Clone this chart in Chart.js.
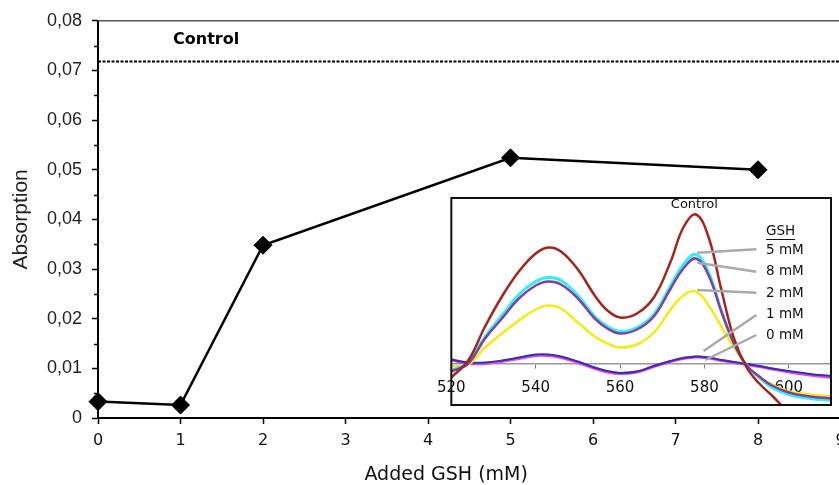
<!DOCTYPE html>
<html>
<head>
<meta charset="utf-8">
<script src="https://cdn.jsdelivr.net/npm/chart.js@4/dist/chart.umd.min.js"></script>
<style>
  html, body { margin: 0; padding: 0; background: #fff; overflow: hidden; }
  #wrap { position: relative; width: 839px; height: 485px; overflow: hidden; }
  #main { position: absolute; left: 0; top: 0; }
  #inset { position: absolute; left: 425px; top: 188px; }
</style>
</head>
<body>
<div id="wrap">
  <canvas id="main" width="860" height="485"></canvas>
  <canvas id="inset" width="414" height="225"></canvas>
</div>
<script>
// main plot: absorption vs added GSH
const gsh = [0, 1, 2, 5, 8]
const absorption = [0.0033, 0.0026, 0.0348, 0.0524, 0.0500]
const controlLevel = 0.0718
const xTicks = [0, 1, 2, 3, 4, 5, 6, 7, 8, 9]

// inset: spectra, wavelength in nm, arbitrary units
const nm = [520, 524, 528, 532, 536, 540, 543, 546, 550, 554, 557, 560, 564, 568, 572, 575, 578, 581, 584, 587, 590, 593, 596, 600, 605, 610]
const specControl = [-14, 3, 37, 67, 92, 110, 116, 112, 94, 68, 53, 46, 50, 66, 102, 136, 149, 126, 74, 25, -4, -20, -32, -48, -58, -64]
const spec5mM = [-7, 1, 27, 48, 69, 82, 86, 83, 68, 47, 37, 32, 36, 49, 78, 99, 109, 91, 53, 20, -2, -14, -24, -31, -35, -37]
const spec8mM = [-8, 0, 25, 45, 65, 78, 82, 79, 65, 45, 35, 30, 34, 47, 75, 95, 105, 88, 52, 20, -2, -13, -22, -29, -33, -35]
const spec2mM = [-3, -1, 16, 30, 43, 54, 58, 55, 41, 27, 20, 16, 19, 31, 54, 68, 72, 58, 37, 16, -2, -14, -21, -28, -31, -33]
const spec1mM = [4, 1, 1, 3, 6, 9, 9, 7, 2, -4, -7.5, -9.5, -8, -2.5, 2.5, 5.5, 7, 6, 3.5, 1.5, -0.5, -2.5, -5, -7.5, -10.5, -12.5]
const spec0mM = [3.5, 0, 0, 2, 5, 8, 8, 6, 1, -5, -8.5, -10, -8.5, -3, 2, 5, 6.5, 5.5, 3, 1, -1, -3, -5.5, -8.5, -11.5, -14]
const insetTicks = [520, 540, 560, 580, 600]

// labels and their leader lines in the inset
const seriesLabels = ['5 mM', '8 mM', '2 mM', '1 mM', '0 mM']
const labelY = [113.5, 91.8, 70.5, 49.5, 28.5]
const leaderFrom = [[592.3, 114.2], [592.3, 91.8], [592.3, 70.8], [592.3, 48.5], [592.3, 28.5]]
const leaderTo = [[578.3, 110.8], [578.3, 100.8], [578.3, 73.5], [579.8, 12.5], [580.2, 3.5]]

const sansV = '"DejaVu Sans", Verdana, sans-serif'
const sansH = '"Liberation Sans", Arial, Helvetica, sans-serif'

const mainExtras = {
    id: 'mainExtras',
    afterDraw(chart) {
        const ctx = chart.ctx
        const area = chart.chartArea
        const x = chart.scales.x
        const y = chart.scales.y
        ctx.save()
        // top frame line
        ctx.strokeStyle = '#555'
        ctx.lineWidth = 1.5
        ctx.beginPath()
        ctx.moveTo(area.left, area.top)
        ctx.lineTo(area.right, area.top)
        ctx.stroke()
        // minor ticks on y axis
        ctx.strokeStyle = '#000'
        ctx.lineWidth = 1.5
        for (var v = 0.005; v < 0.08; v += 0.01) {
            const py = Math.round(y.getPixelForValue(v)) + 0.5
            ctx.beginPath()
            ctx.moveTo(area.left - 4, py)
            ctx.lineTo(area.left, py)
            ctx.stroke()
        }
        // "Control" label over dashed line
        ctx.fillStyle = '#000'
        ctx.font = 'bold 16px ' + sansV
        ctx.textAlign = 'center'
        ctx.textBaseline = 'middle'
        ctx.fillText('Control', x.getPixelForValue(1.31), y.getPixelForValue(0.0761))
        // x axis title
        ctx.font = '19px ' + sansV
        ctx.fillStyle = '#111'
        ctx.fillText('Added GSH (mM)', x.getPixelForValue(4.22), 475)
        ctx.restore()
    }
}

new Chart(document.getElementById('main'), {
    type: 'line',
    data: {
        datasets: [
            {
                data: gsh.map((g, i) => ({ x: g, y: absorption[i] })),
                borderColor: '#000',
                borderWidth: 2.5,
                pointStyle: 'rectRot',
                pointRadius: 9,
                pointBackgroundColor: '#000',
                pointBorderColor: '#000',
                pointBorderWidth: 1,
                tension: 0,
                clip: false
            },
            {
                data: [{ x: 0, y: controlLevel }, { x: 9, y: controlLevel }],
                borderColor: '#000',
                borderWidth: 2,
                borderDash: [3, 1.5],
                pointRadius: 0
            }
        ]
    },
    options: {
        responsive: false,
        animation: false,
        layout: { padding: { top: 20, right: 19.5, left: 0, bottom: 0 } },
        plugins: { legend: { display: false }, tooltip: { enabled: false } },
        scales: {
            x: {
                type: 'linear',
                min: 0,
                max: 9,
                afterBuildTicks: (scale) => { scale.ticks = xTicks.map(v => ({ value: v })) },
                afterFit: (scale) => { scale.height = 67 },
                border: { display: true, color: '#000', width: 2 },
                grid: { drawOnChartArea: false, drawTicks: true, tickLength: 6, tickColor: '#000', tickWidth: 1.5 },
                ticks: { color: '#111', padding: 7, font: { family: sansV, size: 16 } }
            },
            y: {
                min: 0,
                max: 0.08,
                afterFit: (scale) => { scale.width = 98 },
                border: { display: true, color: '#000', width: 2 },
                grid: { drawOnChartArea: false, drawTicks: true, tickLength: 6, tickColor: '#000', tickWidth: 1.5 },
                ticks: {
                    stepSize: 0.01,
                    color: '#222',
                    padding: 10,
                    font: { family: sansH, size: 18 },
                    callback: (v) => v === 0 ? '0' : v.toFixed(2).replace('.', ',')
                },
                title: {
                    display: true,
                    text: 'Absorption',
                    color: '#222',
                    padding: { top: 9, bottom: 0 },
                    font: { family: sansH, size: 21 }
                }
            }
        }
    },
    plugins: [mainExtras]
})

const insetExtras = {
    id: 'insetExtras',
    beforeDraw(chart) {
        const ctx = chart.ctx
        const a = chart.chartArea
        ctx.save()
        ctx.fillStyle = '#fff'
        ctx.fillRect(a.left, a.top, a.right - a.left, a.bottom - a.top)
        ctx.restore()
    },
    afterDraw(chart) {
        const ctx = chart.ctx
        const a = chart.chartArea
        const x = chart.scales.x
        const y = chart.scales.y
        ctx.save()
        ctx.fillStyle = '#111'
        ctx.textBaseline = 'middle'
        ctx.font = '13px ' + sansV
        ctx.textAlign = 'center'
        ctx.fillText('Control', x.getPixelForValue(577.6), y.getPixelForValue(158.5))
        ctx.textAlign = 'left'
        ctx.font = '13.5px ' + sansV
        const lx = x.getPixelForValue(594.6)
        const gy = y.getPixelForValue(132.5)
        ctx.fillText('GSH', lx, gy)
        const gw = ctx.measureText('GSH').width
        ctx.strokeStyle = '#111'
        ctx.lineWidth = 1
        ctx.beginPath()
        ctx.moveTo(lx, gy + 8.5)
        ctx.lineTo(lx + gw, gy + 8.5)
        ctx.stroke()
        seriesLabels.forEach((t, i) => ctx.fillText(t, lx, y.getPixelForValue(labelY[i])))
        // frame
        ctx.strokeStyle = '#111'
        ctx.lineWidth = 2
        ctx.strokeRect(a.left, a.top, a.right - a.left, a.bottom - a.top)
        ctx.restore()
    }
}

function spectrum(vals, color, width) {
    return {
        data: nm.map((w, i) => ({ x: w, y: vals[i] })),
        borderColor: color,
        borderWidth: width,
        pointRadius: 0,
        tension: 0.4
    }
}

var insetSets = leaderFrom.map((p, i) => ({
    data: [{ x: p[0], y: p[1] }, { x: leaderTo[i][0], y: leaderTo[i][1] }],
    borderColor: '#a9a9a9',
    borderWidth: 2.5,
    pointRadius: 0
}))
insetSets = insetSets.concat([
    spectrum(specControl, '#a3261c', 2.5),
    spectrum(spec8mM, '#84409c', 2.5),
    spectrum(spec5mM, '#2ef0f6', 3),
    spectrum(spec2mM, '#f4ec10', 2.5),
    spectrum(spec1mM, '#2f35a8', 2),
    spectrum(spec0mM, '#f040e8', 3)
])

new Chart(document.getElementById('inset'), {
    type: 'line',
    data: { datasets: insetSets },
    options: {
        responsive: false,
        animation: false,
        layout: { padding: { top: 10, left: 20, right: 8, bottom: 8 } },
        plugins: { legend: { display: false }, tooltip: { enabled: false } },
        scales: {
            x: {
                type: 'linear',
                min: 520,
                max: 610,
                position: { y: 0 },
                afterBuildTicks: (scale) => { scale.ticks = insetTicks.map(v => ({ value: v })) },
                border: { display: true, color: '#9a9a9a', width: 1.5 },
                grid: { drawOnChartArea: false, drawTicks: true, tickLength: 4, tickColor: '#777', tickWidth: 1 },
                ticks: { color: '#111', padding: 12, font: { family: sansV, size: 15 } }
            },
            y: {
                display: false,
                min: -41.5,
                max: 165.5
            }
        }
    },
    plugins: [insetExtras]
})
</script>
</body>
</html>
